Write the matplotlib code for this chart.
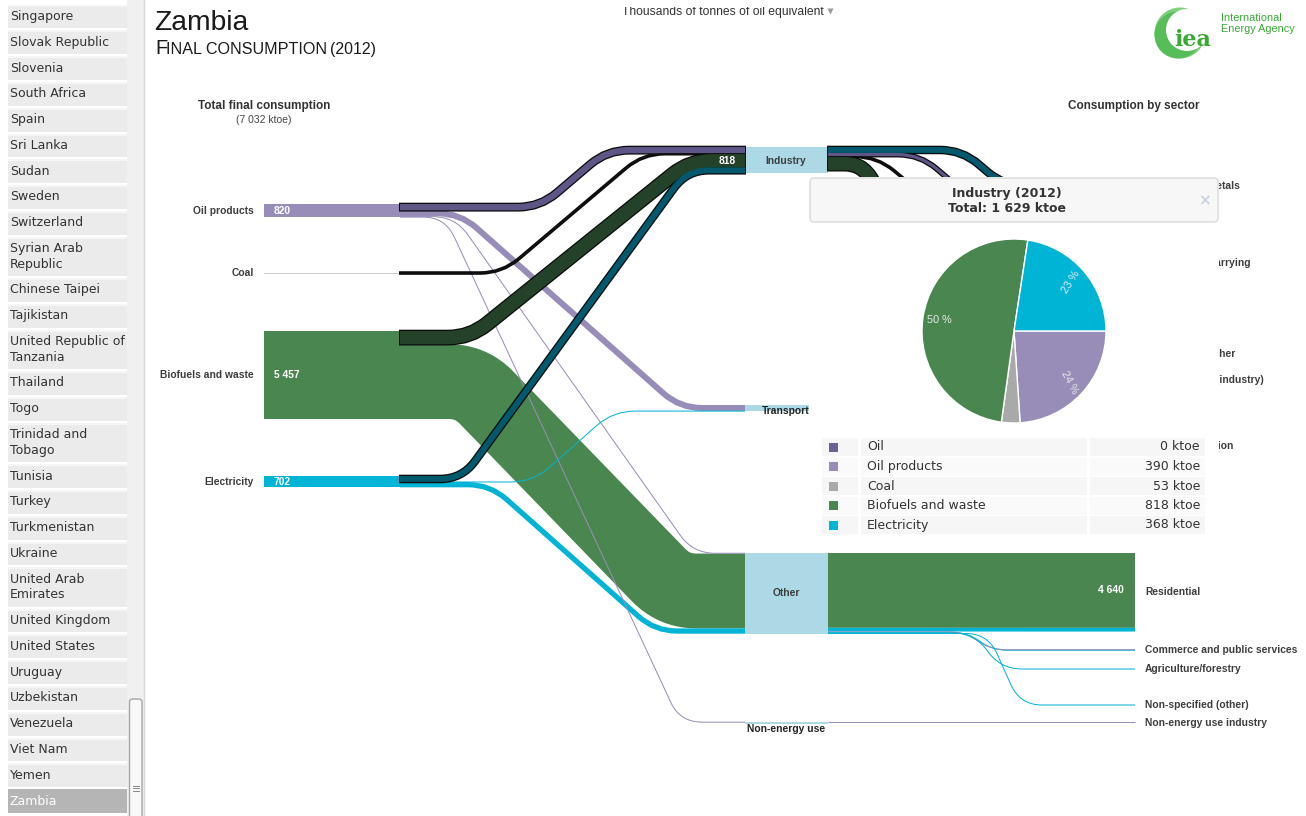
import numpy as np
import matplotlib.pyplot as plt
from matplotlib.path import Path
from matplotlib.patches import PathPatch, Rectangle, FancyBboxPatch, Circle

# ---- data ----
source_names = ['Oil products', 'Coal', 'Biofuels and waste', 'Electricity']
source_values = [820, 53, 5457, 702]
total_tfc = 7032

sector_names = ['Industry', 'Transport', 'Other', 'Non-energy use']

# fuel -> sector flows (ktoe)
flow_src = ['Oil products', 'Oil products', 'Oil products', 'Oil products', 'Coal',
            'Biofuels and waste', 'Biofuels and waste', 'Electricity', 'Electricity', 'Electricity']
flow_tgt = ['Industry', 'Transport', 'Other', 'Non-energy use', 'Industry',
            'Industry', 'Other', 'Industry', 'Transport', 'Other']
flow_val = [390, 375, 35, 20, 53, 818, 4639, 368, 5, 329]

# sector -> sub-sector flows
other_src = ['Biofuels and waste', 'Electricity', 'Oil products', 'Electricity', 'Electricity', 'Electricity']
other_tgt = ['Residential', 'Residential', 'Commerce and public services', 'Commerce and public services',
             'Agriculture/forestry', 'Non-specified (other)']
other_val = [4640, 230, 35, 40, 35, 24]

ind_src = ['Electricity', 'Oil products', 'Coal', 'Biofuels and waste']
ind_tgt = ['Non-ferrous metals', 'Mining and quarrying', 'Mining and quarrying', 'Non-specified (industry)']
ind_val = [368, 200, 53, 818]

nonenergy_val = 20

# tooltip (Industry 2012)
pie_labels = ['Oil', 'Oil products', 'Coal', 'Biofuels and waste', 'Electricity']
pie_values = [0, 390, 53, 818, 368]
industry_total = 1629

countries = ['Singapore', 'Slovak Republic', 'Slovenia', 'South Africa', 'Spain', 'Sri Lanka', 'Sudan',
             'Sweden', 'Switzerland', 'Syrian Arab\nRepublic', 'Chinese Taipei', 'Tajikistan',
             'United Republic of\nTanzania', 'Thailand', 'Togo', 'Trinidad and\nTobago', 'Tunisia', 'Turkey',
             'Turkmenistan', 'Ukraine', 'United Arab\nEmirates', 'United Kingdom', 'United States', 'Uruguay',
             'Uzbekistan', 'Venezuela', 'Viet Nam', 'Yemen', 'Zambia']

right_labels = ['Non-ferrous metals', 'Mining and quarrying', 'Textile and leather', 'Non-specified (industry)',
                'Domestic aviation', 'Residential', 'Commerce and public services', 'Agriculture/forestry',
                'Non-specified (other)', 'Non-energy use industry']
right_label_y = [186, 263, 354, 380, 446, 592, 650, 669, 705, 723]

# ---- colours / layout ----
light = {'Oil': '#6b6194', 'Oil products': '#978db8', 'Coal': '#a9a9a9',
         'Biofuels and waste': '#4a8750', 'Electricity': '#00b4d6'}
dark = {'Oil products': '#5e5687', 'Coal': '#111111', 'Biofuels and waste': '#244229',
        'Electricity': '#00596c'}
node_col = '#add8e6'
lab_col = '#3d3d3d'
ARIAL = 'Liberation Sans'
LFS = 7.4  # sankey label size

W, H = 1306, 816
K = 88 / 5457  # px per ktoe

src_top = {'Oil products': 204, 'Coal': 272.6, 'Biofuels and waste': 331, 'Electricity': 476}
tgt_top = {'Industry': 147, 'Transport': 405, 'Other': 553, 'Non-energy use': 722}
flow_bend = [(540, 607), (460, 680), (455, 693), (445, 680), (502, 643),
             (470, 690), (471, 674), (462, 687), (533, 613), (490, 655)]
other_bend = [(900, 1000), (900, 1000), (965, 990), (968, 992), (975, 1000), (988, 1020)]
ind_bend = [(962, 1004), (920, 1046), (877, 1007), (862, 990)]
sub_center = {'Residential': 592.3, 'Commerce and public services': 650, 'Agriculture/forestry': 669,
              'Non-specified (other)': 705, 'Non-ferrous metals': 186, 'Mining and quarrying': 263,
              'Non-specified (industry)': 380}

fig = plt.figure(figsize=(W / 100, H / 100), dpi=100)
ax = fig.add_axes([0, 0, 1, 1])
ax.set_xlim(0, W)
ax.set_ylim(H, 0)
ax.axis('off')


def rounded(points, r=22):
    verts = [points[0]]
    codes = [Path.MOVETO]
    for i in range(1, len(points) - 1):
        p0, p1, p2 = (np.array(p, float) for p in points[i - 1:i + 2])
        d1 = p1 - p0
        d2 = p2 - p1
        l1, l2 = np.hypot(*d1), np.hypot(*d2)
        rr = min(r, l1 / 2, l2 / 2)
        a = p1 - d1 / l1 * rr
        b = p1 + d2 / l2 * rr
        verts += [tuple(a), tuple(p1), tuple(b)]
        codes += [Path.LINETO, Path.CURVE3, Path.CURVE3]
    verts.append(points[-1])
    codes.append(Path.LINETO)
    return Path(verts, codes)


def band(points, w, color, z, outline=False, r=22):
    if outline:
        pts = list(points)
        pts[0] = (pts[0][0] - 1, pts[0][1])
        pts[-1] = (pts[-1][0] + 1, pts[-1][1])
        ax.add_patch(PathPatch(rounded(pts, r), fill=False, lw=(w + 2.6) * 0.72, ec='#0d0d0d',
                               capstyle='butt', joinstyle='round', zorder=z))
    ax.add_patch(PathPatch(rounded(points, r), fill=False, lw=w * 0.72, ec=color,
                           capstyle='butt', joinstyle='round', zorder=z + 0.1))


# ---- sankey: fuels -> sectors ----
src_off = {s: 0.0 for s in source_names}
tgt_off = {t: 0.0 for t in sector_names}
links = []
for s, t, v, (xa, xb) in zip(flow_src, flow_tgt, flow_val, flow_bend):
    w = v * K
    y0 = src_top[s] + src_off[s] + w / 2
    src_off[s] += w
    y1 = tgt_top[t] + tgt_off[t] + w / 2
    tgt_off[t] += w
    links.append((v, s, t, [(400, y0), (xa, y0), (xb, y1), (745, y1)], max(w, 1.0)))

for v, s, t, pts, w in sorted(links, key=lambda l: -l[0]):
    if t != 'Industry':
        band(pts, w, light[s], 2)
for v, s, t, pts, w in links:
    if t == 'Industry':
        band(pts, w, dark[s], 4, outline=True)

# source bars
for s, v in zip(source_names, source_values):
    h = v * K
    if h < 2:
        ax.add_patch(Rectangle((264, src_top[s]), 136, 1.2, fc='#cfcfcf', ec='none', zorder=2))
    else:
        ax.add_patch(Rectangle((264, src_top[s]), 136, h, fc=light[s], ec='none', zorder=2))
        ax.text(274, src_top[s] + h / 2, f'{v:,}'.replace(',', ' '), color='white', fontsize=LFS,
                fontweight='bold', family=ARIAL, va='center', ha='left', zorder=6)
    ax.text(254, src_top[s] + max(h, 1) / 2, s, color=lab_col, fontsize=LFS, fontweight='bold',
            family=ARIAL, ha='right', va='center', zorder=6)

# sector nodes
for t in sector_names:
    h = max(tgt_off[t], 1.5)
    ax.add_patch(Rectangle((745, tgt_top[t]), 83, h, fc=node_col, ec='none', zorder=3))
ax.text(786, 161, 'Industry', fontsize=LFS, fontweight='bold',
        family=ARIAL, color=lab_col, ha='center', va='center', zorder=6)
ax.text(786, 411, 'Transport', fontsize=LFS, fontweight='bold', family=ARIAL, color='#222222',
        ha='center', va='center', zorder=6)
ax.text(786, tgt_top['Other'] + tgt_off['Other'] / 2, 'Other', fontsize=LFS, fontweight='bold',
        family=ARIAL, color=lab_col, ha='center', va='center', zorder=6)
ax.text(786, 729, 'Non-energy use', fontsize=LFS, fontweight='bold', family=ARIAL, color='#222222',
        ha='center', va='center', zorder=6)
ax.text(736, 161, f'{flow_val[5]}', color='white', fontsize=LFS, fontweight='bold', family=ARIAL,
        ha='right', va='center', zorder=6)

# ---- sankey: sectors -> sub-sectors ----
def sub_flows(src, tgt, val, bends, top, highlight):
    tot = {}
    for t, v in zip(tgt, val):
        tot[t] = tot.get(t, 0) + v * K
    off = {t: 0.0 for t in tot}
    y_off = 0.0
    out = []
    for s, t, v, (xa, xb) in zip(src, tgt, val, bends):
        w = v * K
        y0 = top + y_off + w / 2
        y_off += w
        y1 = sub_center[t] - tot[t] / 2 + off[t] + w / 2
        off[t] += w
        out.append((v, s, [(828, y0), (xa, y0), (xb, y1), (1135, y1)], max(w, 1.0)))
    for v, s, pts, w in sorted(out, key=lambda l: -l[0]):
        if highlight:
            band(pts, w, dark[s], 4, outline=True)
        else:
            band(pts, w, light[s], 2)
    return out


other_links = sub_flows(other_src, other_tgt, other_val, other_bend, tgt_top['Other'], False)
sub_flows(ind_src, ind_tgt, ind_val, ind_bend, tgt_top['Industry'], True)
ne_y = tgt_top['Non-energy use'] + nonenergy_val * K / 2
band([(828, ne_y), (1135, ne_y)], 1.0, light['Oil products'], 2)

ax.text(1124, other_links[0][2][-1][1], f'{other_val[0]:,}'.replace(',', ' '), color='white',
        fontsize=LFS, fontweight='bold', family=ARIAL, ha='right', va='center', zorder=6)

# labels partly hidden by the tooltip panel are clipped at its right edge
vis = Rectangle((1219, 0), 200, H, transform=ax.transData)
for lab, y in zip(right_labels, right_label_y):
    t = ax.text(1145, y, lab, fontsize=LFS, fontweight='bold', family=ARIAL, color=lab_col,
                ha='left', va='center', zorder=6)
    if 177 < y < 545:
        t.set_clip_path(vis)

# headers
ax.text(264, 106, 'Total final consumption', fontsize=8.5, fontweight='bold', family=ARIAL,
        color='#333333', ha='center', va='center')
ax.text(264, 120, f'({total_tfc:,} ktoe)'.replace(',', ' '), fontsize=7.5, family=ARIAL,
        color='#444444', ha='center', va='center')
ax.text(1134, 106, 'Consumption by sector', fontsize=8.5, fontweight='bold', family=ARIAL,
        color='#333333', ha='center', va='center')

# titles
ax.text(154, 30, 'Zambia', fontsize=20.3, family=ARIAL, color='#1a1a1a', va='baseline', ha='left')
ax.text(155, 54, 'F', fontsize=14.5, family=ARIAL, color='#1a1a1a', va='baseline', ha='left')
ax.text(165.5, 54, 'INAL CONSUMPTION', fontsize=11.6, family=ARIAL, color='#1a1a1a', va='baseline', ha='left')
ax.text(330, 54, '(2012)', fontsize=11.4, family=ARIAL, color='#1a1a1a', va='baseline', ha='left')
ax.text(622, 15, 'Thousands of tonnes of oil equivalent', fontsize=8.7, family=ARIAL,
        color='#333333', va='baseline', ha='left')
ax.add_patch(Rectangle((600, 0), 228, 7, fc='white', ec='none', zorder=20))
ax.plot([830], [10.5], marker='v', ms=4.5, color='#9a9a9a', mec='none', zorder=21)

# IEA logo
ax.add_patch(Circle((1180, 33), 25.5, fc='#7fd07c', ec='none', zorder=5))
ax.add_patch(Circle((1178, 35), 23.5, fc='#56bd58', ec='none', zorder=5.05))
ax.add_patch(Circle((1187, 30), 21, fc='white', ec='none', zorder=5.1))
ax.text(1193, 40, 'iea', fontsize=16, fontweight='bold', family='DejaVu Serif', color='#39a935',
        ha='center', va='center', zorder=6)
ax.text(1221, 18, 'International', fontsize=7.8, family=['Liberation Sans Narrow', ARIAL],
        color='#39a935', ha='left', va='center')
ax.text(1221, 29, 'Energy Agency', fontsize=7.8, family=['Liberation Sans Narrow', ARIAL],
        color='#39a935', ha='left', va='center')

# ---- tooltip panel ----
ax.add_patch(Rectangle((809, 177), 410, 368, fc='white', ec='none', zorder=10))
ax.add_patch(FancyBboxPatch((810, 178), 408, 44, boxstyle='round,pad=0,rounding_size=4',
                            fc='#f7f7f7', ec='#d9d9d9', lw=1, zorder=11))
ax.text(1007, 193, 'Industry (2012)', fontsize=9, fontweight='bold', family='DejaVu Sans',
        color='#333333', ha='center', va='center', zorder=12)
ax.text(1007, 208, f'Total: {industry_total:,} ktoe'.replace(',', ' '), fontsize=9,
        fontweight='bold', family='DejaVu Sans', color='#333333', ha='center', va='center', zorder=12)
ax.text(1204, 201, '\u00d7', fontsize=11, fontweight='bold', family='DejaVu Sans', color='#c7d2e2',
        ha='center', va='center', zorder=12)

row_y = 447
for i, (lab, v) in enumerate(zip(pie_labels, pie_values)):
    y = row_y + i * 19.5
    bg = '#f6f6f6' if i % 2 == 0 else '#fafafa'
    for x0, x1 in [(822, 858), (861, 1087), (1090, 1205)]:
        ax.add_patch(Rectangle((x0, y - 9), x1 - x0, 18, fc=bg, ec='none', zorder=11))
    ax.add_patch(Rectangle((829, y - 4.5), 9, 9, fc=light[lab], ec='none', zorder=12))
    ax.text(867, y, lab, fontsize=9, family='DejaVu Sans', color='#333333', va='center',
            ha='left', zorder=12)
    ax.text(1200, y, f'{v} ktoe', fontsize=9, family='DejaVu Sans', color='#333333',
            va='center', ha='right', zorder=12)

# ---- sidebar ----
ax.add_patch(Rectangle((127, 0), 17, H, fc='#f0f0f0', ec='none', zorder=1))
ax.plot([144, 144], [0, H], color='#d6d6d6', lw=1, zorder=1)
y = 3.5
for c in countries:
    h = 41.4 if '\n' in c else 25.8
    sel = c == 'Zambia'
    ax.add_patch(Rectangle((8, y + 1), 119, h - 2, fc='#b5b5b5' if sel else '#ebebeb', ec='none', zorder=1))
    ax.add_patch(Rectangle((8, y + 1), 119, 2, fc='#b5b5b5' if sel else '#f6f6f6', ec='none', zorder=1))
    ax.text(10, y + h / 2, c, fontsize=9, family='DejaVu Sans', color='white' if sel else '#333333',
            va='center', ha='left', linespacing=1.25, zorder=2)
    y += h
ax.add_patch(FancyBboxPatch((129.5, 699), 12.5, 130, boxstyle='round,pad=0,rounding_size=3',
                            fc='#f8f8f8', ec='#a6a6a6', lw=1, zorder=2))
for gy in (785.5, 788, 790.5):
    ax.plot([132.5, 138.5], [gy, gy], color='#8a8a8a', lw=0.7, zorder=3)

# ---- pie in tooltip ----
pcx, pcy, pr = 1014, 331, 92
pax = fig.add_axes([(pcx - pr) / W, 1 - (pcy + pr) / H, 2 * pr / W, 2 * pr / H])
vals = [v for v in pie_values if v > 0]
cols = [light[l] for l, v in zip(pie_labels, pie_values) if v > 0]
wedges, texts, autotexts = pax.pie(vals, colors=cols, startangle=0, counterclock=False,
                                   autopct=lambda p: f'{p:.0f} %' if p > 5 else '', pctdistance=0.82,
                                   wedgeprops=dict(edgecolor='white', linewidth=1),
                                   textprops=dict(color='#e9e9e9', fontsize=7.8, family=ARIAL))
for t, rot in zip(autotexts, [-62, 0, 0, 58]):
    t.set_rotation(rot)
pax.set_xlim(-1, 1)
pax.set_ylim(-1, 1)
pax.set_axis_off()

fig.savefig('out.png', dpi=100, facecolor='white')
